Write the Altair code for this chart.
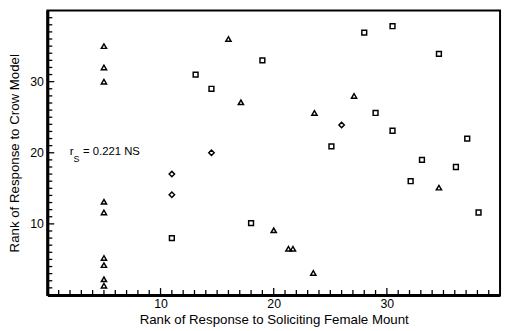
import altair as alt
import pandas as pd

# Triangles
tri_x = [5, 5, 5, 5, 5, 5, 5, 5, 5, 16, 17.1, 20, 21.3, 21.7, 23.5, 27.1, 23.6, 34.6]
tri_y = [35, 32, 30, 13.1, 11.6, 5.2, 4.2, 2.2, 1.3, 36, 27.1, 9.1, 6.5, 6.5, 3.1, 28, 25.6, 15.1]
# Squares
sq_x = [19, 13.1, 14.5, 11, 18, 30.5, 28, 29, 30.5, 25.1, 34.6, 37.1, 33.1, 36.1, 32.1, 38.1]
sq_y = [33, 31, 29, 8, 10.1, 37.8, 36.9, 25.6, 23.1, 20.9, 33.9, 22, 19, 18, 16, 11.6]
# Diamonds
dia_x = [11, 11, 14.5, 26]
dia_y = [17, 14.1, 20, 23.9]

major_ticks = [10, 20, 30]
minor_ticks = [v for v in range(1, 40) if v not in (10, 20, 30)]

W, H = 460, 289
FONT = "Liberation Sans"

xs = alt.Scale(domain=[0, 40], nice=False, zero=False)
ys = alt.Scale(domain=[0, 40], nice=False, zero=False)

tri = pd.DataFrame({"x": tri_x, "y": tri_y})
sq = pd.DataFrame({"x": sq_x, "y": sq_y})
dia = pd.DataFrame({"x": dia_x, "y": dia_y})
maj = pd.DataFrame({"v": major_ticks})
mnr = pd.DataFrame({"v": minor_ticks})

xaxis = alt.Axis(values=major_ticks, ticks=False, grid=False, domainWidth=3,
                 domainColor="black", labelFont=FONT, labelFontSize=12.5,
                 labelColor="black", labelPadding=3,
                 title="Rank of Response to Soliciting Female Mount",
                 titleFont=FONT, titleFontSize=13.5, titleFontWeight="normal",
                 titleColor="black", titlePadding=3)
yaxis = alt.Axis(values=major_ticks, ticks=False, grid=False, domainWidth=3,
                 domainColor="black", labelFont=FONT, labelFontSize=12.5,
                 labelColor="black", labelPadding=4,
                 title="Rank of Response to Crow Model",
                 titleFont=FONT, titleFontSize=13.5, titleFontWeight="normal",
                 titleColor="black", titlePadding=8)

def pts(df, shape, size):
    return alt.Chart(df).mark_point(shape=shape, filled=False, size=size,
                                    stroke="black", strokeWidth=1.5, opacity=1).encode(
        x=alt.X("x:Q", scale=xs, axis=xaxis),
        y=alt.Y("y:Q", scale=ys, axis=yaxis),
    )

p_tri = pts(tri, "triangle-up", 28)
p_sq = pts(sq, "square", 24)
p_dia = pts(dia, "diamond", 30)

def xticks(df, length):
    return alt.Chart(df).mark_rule(color="black", strokeWidth=1.3).encode(
        x=alt.X("v:Q", scale=xs, axis=xaxis),
        y=alt.value(H), y2=alt.value(H - length))

def yticks(df, length):
    return alt.Chart(df).mark_rule(color="black", strokeWidth=1.3).encode(
        y=alt.Y("v:Q", scale=ys, axis=yaxis),
        x=alt.value(0), x2=alt.value(length))

ann_r = alt.Chart(pd.DataFrame({"t": ["r"]})).mark_text(
    font=FONT, fontSize=12, align="left", baseline="middle", color="black").encode(
    x=alt.X(datum=1.97, scale=xs, axis=xaxis), y=alt.Y(datum=20.2, scale=ys, axis=yaxis), text="t:N")
ann_s = alt.Chart(pd.DataFrame({"t": ["S"]})).mark_text(
    font=FONT, fontSize=9, align="left", baseline="middle", color="black").encode(
    x=alt.X(datum=2.3, scale=xs, axis=xaxis), y=alt.Y(datum=19.1, scale=ys, axis=yaxis), text="t:N")
ann_v = alt.Chart(pd.DataFrame({"t": ["= 0.221 NS"]})).mark_text(
    font=FONT, fontSize=11.5, align="left", baseline="middle", color="black").encode(
    x=alt.X(datum=3.15, scale=xs, axis=xaxis), y=alt.Y(datum=20.1, scale=ys, axis=yaxis), text="t:N")

chart = alt.layer(
    p_tri, p_sq, p_dia,
    xticks(mnr, 5), xticks(maj, 7), yticks(mnr, 5), yticks(maj, 7),
    ann_r, ann_s, ann_v,
).properties(
    width=W, height=H,
    autosize=alt.AutoSizeParams(type="none"),
    padding={"left": 40, "top": 0, "right": 3, "bottom": 34},
    view=alt.ViewBackground(stroke="black", strokeWidth=2, fill="white"),
).configure(background="white")

chart.save("out.html", embed_options={"renderer": "svg", "actions": False})
